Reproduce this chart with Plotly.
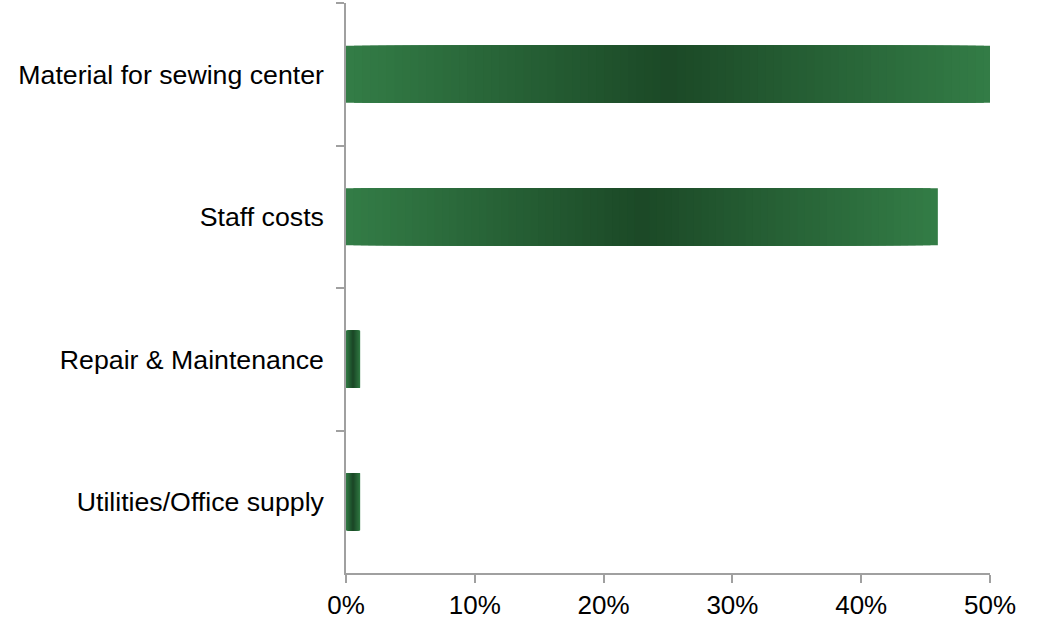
import plotly.graph_objects as go

categories = ["Material for sewing center", "Staff costs", "Repair & Maintenance", "Utilities/Office supply"]
values = [0.5015, 0.4595, 0.011, 0.011]
tick_vals = [0, 0.1, 0.2, 0.3, 0.4, 0.5]

edge_rgb = (51, 124, 70)
center_rgb = (27, 72, 38)
n_layers = 40
bar_width = 0.4

fig = go.Figure()
for k in range(n_layers):
    t = k / n_layers
    c = tuple(round(e + (m - e) * t) for e, m in zip(edge_rgb, center_rgb))
    frac = 1 - t
    fig.add_trace(go.Bar(
        y=categories,
        x=[v * frac for v in values],
        base=[v * t / 2 for v in values],
        orientation="h",
        width=bar_width,
        marker=dict(color="rgb(%d,%d,%d)" % c, line=dict(width=0)),
        hoverinfo="skip" if k else "x+y",
        showlegend=False,
    ))

font = dict(family="Liberation Sans, Arial, sans-serif", size=26.7, color="#000000")
xfont = dict(family="Liberation Sans, Arial, sans-serif", size=26, color="#000000")
fig.update_layout(
    width=1038, height=626,
    margin=dict(l=346, r=48, t=3, b=53, autoexpand=False),
    barmode="overlay",
    plot_bgcolor="white", paper_bgcolor="white",
    font=font,
    xaxis=dict(range=[0, 0.5], tickvals=tick_vals, tickformat=".0%",
               showgrid=False, zeroline=False, showline=True, automargin=False,
               linecolor="#A0A0A0", linewidth=1.5,
               ticks="outside", ticklen=8, tickcolor="#A0A0A0", tickwidth=1.5,
               tickfont=xfont),
    yaxis=dict(categoryorder="array", categoryarray=categories, autorange="reversed",
               showgrid=False, zeroline=False, showline=True, automargin=False,
               linecolor="#A0A0A0", linewidth=1.5,
               ticks="outside", ticklen=8, tickcolor="#A0A0A0", tickwidth=1.5,
               tickson="boundaries", ticklabelstandoff=15, tickfont=font),
)
fig.write_html("out.html", post_script="document.body.style.margin='0';",
               config={"displayModeBar": False})
